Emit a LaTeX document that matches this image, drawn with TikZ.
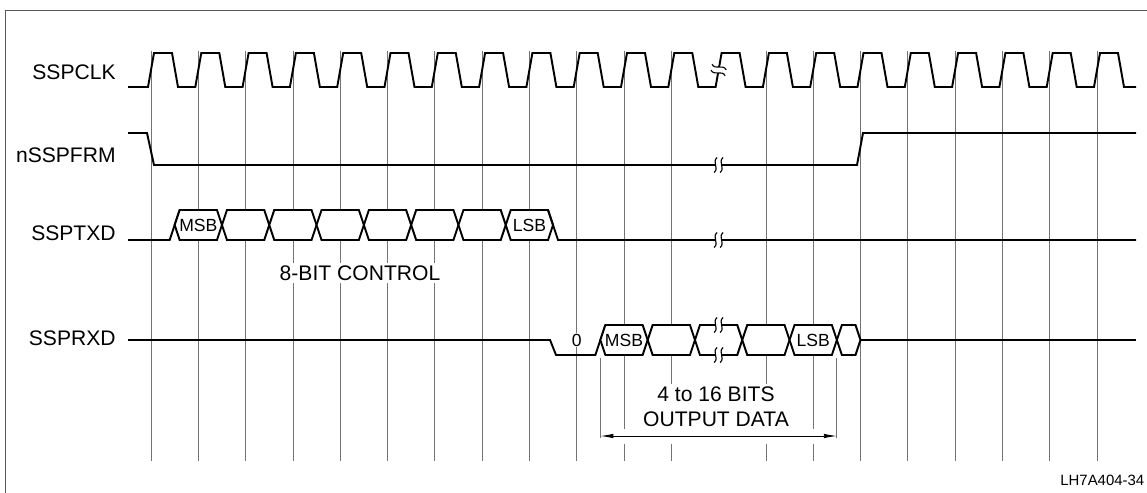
\documentclass[tikz,border=0pt]{standalone}
\usepackage{fontspec}
\setmainfont{Liberation Sans}
\usetikzlibrary{arrows.meta}
\tikzset{
  >=Latex,
  every node/.append style={font=\fontsize{12}{14.4}\selectfont},
}
\tikzset{
  brk/.pic={
    \fill[white] (-3,-5) rectangle (3,5);
    \foreach \d in {-3,3}
      \draw[line width=0.65pt] ({\d+1.5},-7.5) .. controls ({\d-4},-3) and ({\d+4},3) .. ({\d-1.5},7.5);
  }
}
\newcommand{\tper}{47.3}
\newcommand{\tzero}{151}
% one bus cell: left x, right x, top y, bottom y
\newcommand{\buscell}[4]{%
  \draw[cell] ({#1},{(#3+#4)/2}) -- ({#1+5},#3) -- ({#2-5},#3) -- ({#2},{(#3+#4)/2})
    -- ({#2-5},#4) -- ({#1+5},#4) -- cycle;}

\begin{document}
\begin{tikzpicture}[
  x=0.2mm, y=-0.2mm,
  wave/.style={line width=1.1pt, line join=miter},
  cell/.style={wave, fill=white},
  grid/.style={black!55, line width=0.45pt},
  sig/.style={anchor=east, inner sep=0pt},
  bit/.style={font=\fontsize{10}{12}\selectfont, inner sep=0.5pt},
  note/.style={fill=white, inner sep=0.6mm, align=center}
]
\useasboundingbox (0,0) rectangle (1147,493);

% frame
\draw[black!65, line width=0.5pt] (5,500) -- (5,10) -- (1150,10);

% clock edge markers
\foreach \i in {0,...,20}{
  \ifnum\i=12 \else
    \draw[grid] ({\tzero+\i*\tper},51) -- ({\tzero+\i*\tper},461);
  \fi
}

% signal names
\node[sig] (clk) at (116,72) {SSPCLK};
\node[sig] (frm) at (116,155) {nSSPFRM};
\node[sig] (txd) at (116,233) {SSPTXD};
\node[sig] (rxd) at (116,338) {SSPRXD};

% SSPCLK
\draw[wave] (128,87) \foreach \i in {0,...,20}{
  -- ({\tzero+\i*\tper-3},87) -- ({\tzero+\i*\tper+3},53)
  -- ({\tzero+\i*\tper+21},53) -- ({\tzero+\i*\tper+27},87)} -- (1136,87);
\pic[rotate=80] at ({\tzero+12*\tper},70) {brk};

% nSSPFRM
\draw[wave] (128,133) -- (147,133) -- (154,165) -- (857,165) -- (863,133) -- (1136,133);
\pic at ({\tzero+12*\tper},165) {brk};

% SSPTXD
\draw[wave] (128,240) -- ({\tzero+0.5*\tper-5},240) -- ({\tzero+0.5*\tper+5},210);
\foreach \i in {1,...,8}
  \buscell{\tzero+(\i-0.5)*\tper}{\tzero+(\i+0.5)*\tper}{210}{240};
\draw[wave] ({\tzero+8.5*\tper-5},210) -- ({\tzero+8.5*\tper+5},240) -- (1136,240);
\pic at ({\tzero+12*\tper},240) {brk};
\node[bit] (tmsb) at ({\tzero+\tper},225) {MSB};
\node[bit] (tlsb) at ({\tzero+8*\tper},225) {LSB};
\node[note] (ctl) at (360,273) {8-BIT CONTROL};

% SSPRXD
\draw[wave] (128,340) -- ({\tzero+8.5*\tper-3},340) -- ({\tzero+8.5*\tper+3},355)
  -- ({\tzero+9.5*\tper-5},355) -- ({\tzero+9.5*\tper+5},325);
\foreach \i in {10,...,14}
  \buscell{\tzero+(\i-0.5)*\tper}{\tzero+(\i+0.5)*\tper}{325}{355};
\buscell{\tzero+14.5*\tper}{\tzero+15*\tper}{325}{355};
\draw[wave] ({\tzero+15*\tper},340) -- (1136,340);
\pic at ({\tzero+12*\tper},325) {brk};
\pic at ({\tzero+12*\tper},355) {brk};
\node[bit, fill=white] (rzero) at ({\tzero+9*\tper},340) {0};
\node[bit] (rmsb) at ({\tzero+10*\tper},340) {MSB};
\node[bit] (rlsb) at ({\tzero+14*\tper},340) {LSB};

% output data span
\coordinate (dimL) at ({\tzero+9.5*\tper},436);
\coordinate (dimR) at ({\tzero+14.5*\tper},436);
\draw[white, line width=3mm] ([xshift=1mm]dimL) -- ([xshift=-1mm]dimR);
\draw[grid] ({\tzero+9.5*\tper},358) -- ([yshift=-0.3mm]dimL);
\draw[grid] ({\tzero+14.5*\tper},358) -- ([yshift=-0.3mm]dimR);
\draw[<->, line width=0.5pt, >={Latex[length=2.6mm,width=0.9mm]}] (dimL) -- (dimR);
\node[note] (outd) at (716,407) {4 to 16 BITS\\OUTPUT DATA};

\node[anchor=west, inner sep=0pt, font=\fontsize{8.5}{10}\selectfont] (fig) at (1060,480) {LH7A404-34};
\end{tikzpicture}
\end{document}
